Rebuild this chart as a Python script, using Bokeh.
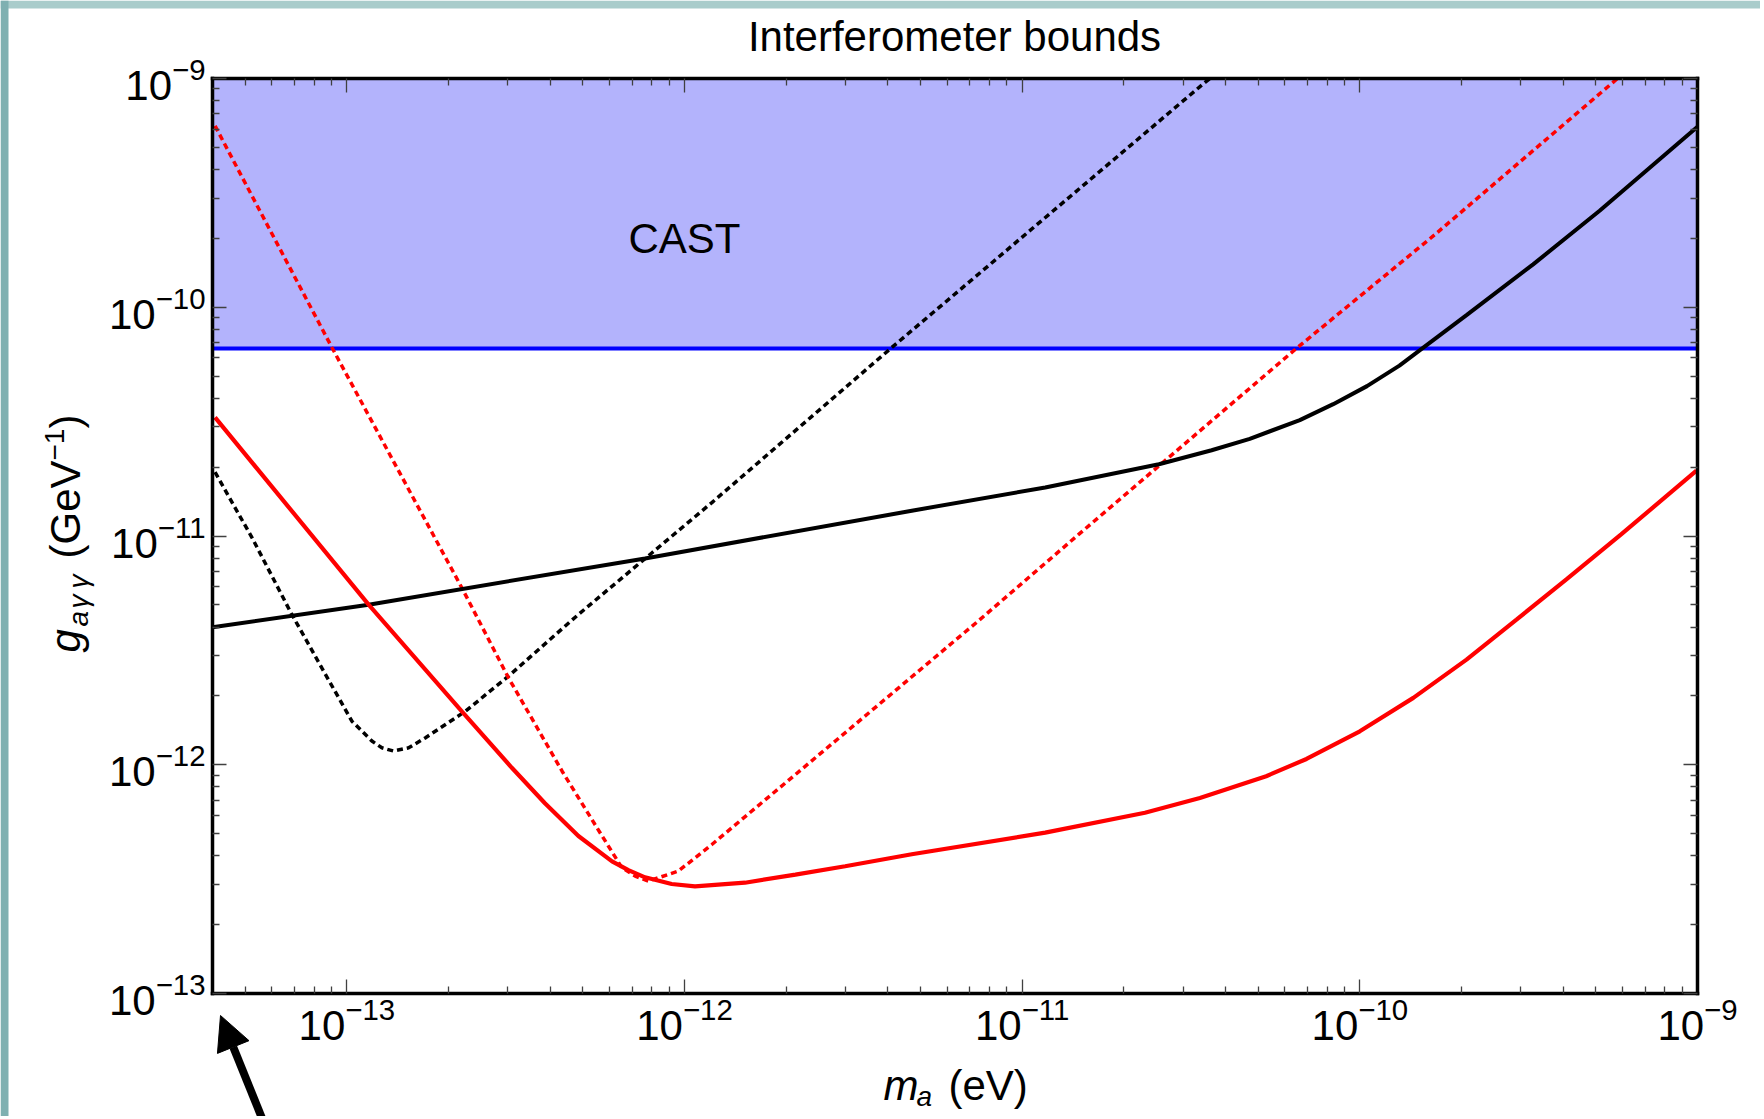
import numpy as np
from bokeh.plotting import figure
from bokeh.models import (Range1d, FixedTicker, LogAxis, Label, Arrow, NormalHead,
                          CustomJSTickFormatter, BoxAnnotation)
from bokeh.embed import file_html
from bokeh.resources import INLINE

FONT = "Liberation Sans"

# ---------------- data (m_a in eV, g in GeV^-1) ----------------
cast_m = [4.0e-14, 1.0e-9]
cast_g_low = [6.6e-11, 6.6e-11]
cast_g_high = [1.0e-9, 1.0e-9]

m_black_solid = [4.0e-14, 1.16e-13, 7.64e-13, 4.71e-12, 1.17e-11, 2.54e-11, 3.64e-11,
                 4.72e-11, 6.64e-11, 8.34e-11, 1.05e-10, 1.31e-10, 1.50e-10, 2.07e-10,
                 3.26e-10, 5.13e-10, 1.0e-9]
g_black_solid = [3.99e-12, 5.01e-12, 7.98e-12, 1.29e-11, 1.63e-11, 2.06e-11, 2.37e-11,
                 2.66e-11, 3.21e-11, 3.77e-11, 4.52e-11, 5.56e-11, 6.46e-11, 9.23e-11,
                 1.54e-10, 2.64e-10, 6.15e-10]

m_black_dotted = [4.07e-14, 5.24e-14, 6.87e-14, 8.43e-14, 1.035e-13, 1.186e-13, 1.27e-13,
                  1.374e-13, 1.524e-13, 1.706e-13, 2.24e-13, 3.01e-13, 4.85e-13, 8.0e-13,
                  1.205e-12, 4.11e-12, 3.48e-11, 3.6e-11]
g_black_dotted = [1.90e-11, 9.82e-12, 4.54e-12, 2.65e-12, 1.55e-12, 1.27e-12, 1.186e-12,
                  1.148e-12, 1.186e-12, 1.31e-12, 1.71e-12, 2.44e-12, 4.54e-12, 8.43e-12,
                  1.40e-11, 6.67e-11, 9.62e-10, 1.0e-9]

m_red_solid = [4.07e-14, 1.16e-13, 2.19e-13, 3.08e-13, 3.86e-13, 4.85e-13, 6.10e-13,
               6.82e-13, 7.64e-13, 9.16e-13, 1.074e-12, 1.51e-12, 2.13e-12, 2.99e-12,
               4.71e-12, 1.17e-11, 2.31e-11, 3.36e-11, 5.28e-11, 6.95e-11, 1.0e-10,
               1.44e-10, 2.07e-10, 2.91e-10, 4.09e-10, 5.94e-10, 9.93e-10]
g_red_solid = [3.30e-11, 5.01e-12, 1.71e-12, 9.70e-13, 6.79e-13, 4.88e-13, 3.78e-13,
               3.46e-13, 3.22e-13, 3.01e-13, 2.94e-13, 3.05e-13, 3.31e-13, 3.60e-13,
               4.06e-13, 5.05e-13, 6.17e-13, 7.16e-13, 8.91e-13, 1.06e-12, 1.40e-12,
               1.96e-12, 2.88e-12, 4.31e-12, 6.46e-12, 1.016e-11, 1.93e-11]

m_red_dotted = [4.07e-14, 9.03e-14, 2.19e-13, 3.01e-13, 4.34e-13, 5.43e-13, 6.52e-13,
                7.14e-13, 7.82e-13, 9.59e-13, 1.205e-12, 2.13e-12, 7.41e-12, 1.47e-11,
                6.49e-11, 1.65e-10, 5.62e-10, 5.79e-10]
g_red_dotted = [6.21e-10, 6.67e-11, 5.94e-12, 2.40e-12, 9.37e-13, 5.48e-13, 3.55e-13,
                3.26e-13, 3.10e-13, 3.43e-13, 4.48e-13, 9.06e-13, 4.25e-12, 1.016e-11,
                6.61e-11, 2.05e-10, 9.62e-10, 1.0e-9]

x_limits = [4e-14, 1e-9]
y_limits = [1e-13, 1e-9]
x_major_ticks = [1e-13, 1e-12, 1e-11, 1e-10, 1e-9]
x_minor_ticks = [k * 10.0 ** e for e in range(-14, -9) for k in range(2, 10)
                 if k * 10.0 ** e > x_limits[0] * 1.01]
y_major_ticks = [1e-13, 1e-12, 1e-11, 1e-10, 1e-9]
y_minor_ticks = [k * 10.0 ** e for e in range(-13, -9) for k in range(2, 10)]

# ---------------- layout: the plot box sits at fixed pixels in the canvas ----------------
W, H = 1760, 1116
BX0, BX1 = 212, 1697     # canvas columns of the box's left / right side
BY0, BY1 = 78, 993       # canvas rows of the box's top / bottom side
lx0, lx1 = np.log10(x_limits[0]), np.log10(x_limits[1])
ly0, ly1 = np.log10(y_limits[0]), np.log10(y_limits[1])
dx = (BX1 - BX0) / (lx1 - lx0)
dy = (BY1 - BY0) / (ly1 - ly0)
x_range = Range1d(10 ** (lx0 - BX0 / dx), 10 ** (lx1 + (W - BX1) / dx))
y_range = Range1d(10 ** (ly0 - (H - BY1) / dy), 10 ** (ly1 + BY0 / dy))


def px(c):   # canvas column -> data x
    return 10 ** (lx0 + (c - BX0) / dx)


def py(r):   # canvas row -> data y
    return 10 ** (ly1 - (r - BY0) / dy)


p = figure(width=W, height=H, x_axis_type="log", y_axis_type="log",
           x_range=x_range, y_range=y_range,
           output_backend="svg", toolbar_location=None, tools="",
           min_border=0, background_fill_color="white", border_fill_color="white")
p.title.visible = False
p.grid.visible = False
p.outline_line_color = None

# slide decoration strips (top and left edges of the screenshot)
p.add_layout(BoxAnnotation(left=px(0), right=px(W), bottom=py(8), top=py(0),
                           fill_color="#a9cccb", fill_alpha=1, line_color=None))
p.add_layout(BoxAnnotation(left=px(0), right=px(8), bottom=py(H), top=py(0),
                           fill_color="#7fb0b1", fill_alpha=1, line_color=None))

p.varea(x=cast_m, y1=cast_g_low, y2=cast_g_high, fill_color="#b3b3fc")
p.line(cast_m, cast_g_low, line_color="#0000ff", line_width=4)
p.line(m_black_dotted, g_black_dotted, line_color="black", line_width=3.5, line_dash="6 4")
p.line(m_red_dotted, g_red_dotted, line_color="#ff0000", line_width=3.5, line_dash="6 4")
p.line(m_black_solid, g_black_solid, line_color="black", line_width=4)
p.line(m_red_solid, g_red_solid, line_color="#ff0000", line_width=4.2)

p.add_layout(LogAxis(), "right")
p.add_layout(LogAxis(), "above")


def style_axis(ax, ticks, minor, loc, bounds, show_labels):
    ax.ticker = FixedTicker(ticks=ticks, minor_ticks=minor)
    ax.fixed_location = loc
    ax.bounds = bounds
    ax.axis_line_color = "black"
    ax.axis_line_width = 3.5
    ax.axis_line_cap = "square"
    ax.major_tick_in = 14
    ax.major_tick_out = 0
    ax.minor_tick_in = 7
    ax.minor_tick_out = 0
    ax.major_tick_line_color = "#404040"
    ax.major_tick_line_width = 1.3
    ax.minor_tick_line_color = "#404040"
    ax.minor_tick_line_width = 1.3
    ax.major_label_text_font = FONT
    ax.major_label_text_font_size = "42px"
    ax.major_label_text_color = "black"
    ax.major_label_standoff = 3
    if not show_labels:
        ax.formatter = CustomJSTickFormatter(code="return ''")
        ax.major_label_text_font_size = "1px"
        ax.major_label_standoff = 0


for ax in p.below:
    style_axis(ax, x_major_ticks, x_minor_ticks, y_limits[0], tuple(x_limits), True)
for ax in p.above:
    style_axis(ax, x_major_ticks, x_minor_ticks, y_limits[1], tuple(x_limits), False)
for ax in p.left:
    style_axis(ax, y_major_ticks, y_minor_ticks, x_limits[0], tuple(y_limits), True)
    ax.major_label_standoff = 7
for ax in p.right:
    style_axis(ax, y_major_ticks, y_minor_ticks, x_limits[1], tuple(y_limits), False)


def lab(text, c, r, size, style="normal", angle=0.0, align="left"):
    # (c, r): canvas position of the text's baseline start; drawn with a "middle"
    # anchor shifted from the baseline by 0.35 em (perpendicular to the text)
    shift = 0.35 * size
    if angle == 0.0:
        r = r - shift
    else:
        c = c - shift
    p.add_layout(Label(x=px(c), y=py(r), text=text, text_font=FONT,
                       text_font_size=f"{size}px", text_font_style=style, angle=angle,
                       text_align=align, text_baseline="middle", text_color="black"))


# title and band label
lab("Interferometer bounds", 954, 51, 42, align="center")
lab("CAST", 684, 253, 42, align="center")

# x axis label: m_a (eV)
lab("m", 883, 1100, 42, style="italic")
lab("a", 916, 1106, 28, style="italic")
lab("(eV)", 948, 1100, 42)

# y axis label: g_aγγ (GeV^-1), rotated
rot = np.pi / 2
lab("g", 80, 652, 42, style="italic", angle=rot)
lab("a", 88, 626, 28, style="italic", angle=rot)
lab("γ", 88, 608, 28, style="italic", angle=rot)
lab("γ", 88, 588, 28, style="italic", angle=rot)
lab("(GeV", 80, 558, 42, angle=rot)
lab("−1", 64, 460, 28, angle=rot)
lab(")", 80, 428, 42, angle=rot)

# arrow pointing at the lower-left corner of the box
p.add_layout(Arrow(end=NormalHead(size=34, fill_color="black", line_color="black"),
                   x_start=px(262), y_start=py(1119), x_end=px(220), y_end=py(1015),
                   line_color="black", line_width=8))

open("out.html", "w").write(file_html(p, INLINE))
